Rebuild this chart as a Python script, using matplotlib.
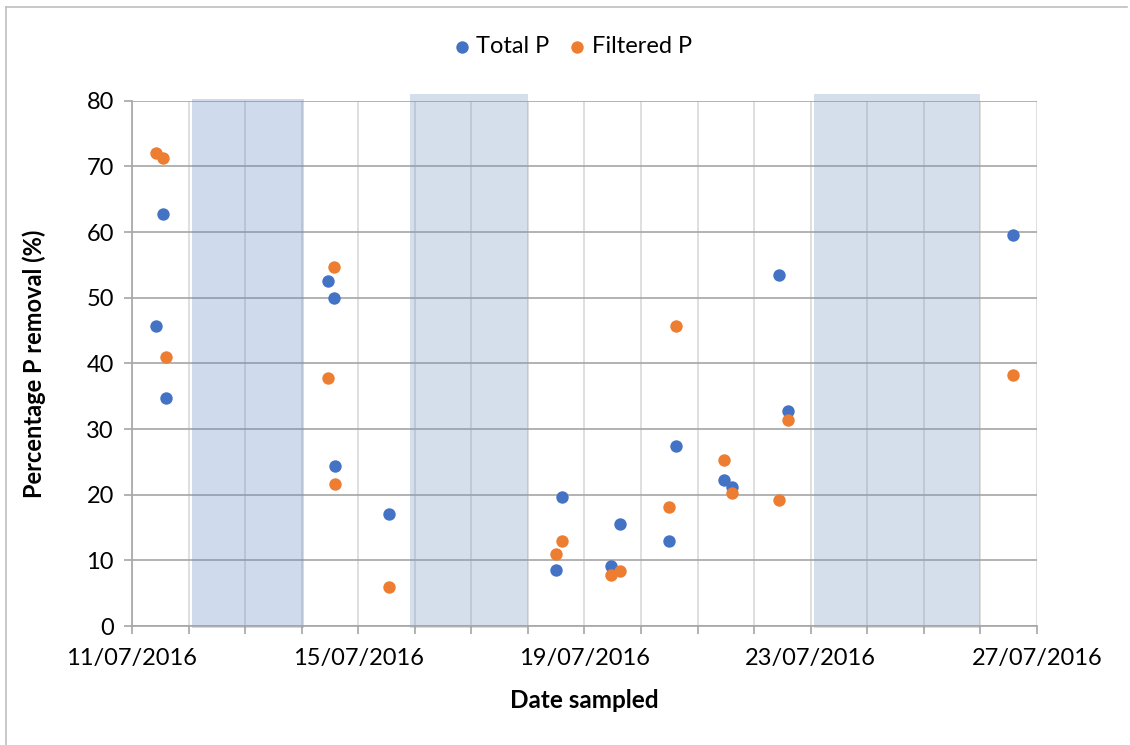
import pandas as pd
import matplotlib.pyplot as plt
import matplotlib.dates as mdates
from matplotlib.patches import Rectangle
from matplotlib.lines import Line2D

plt.rcParams['font.family'] = ['Lato', 'DejaVu Sans']

# sampling times (shared by both series)
dates_sampled = pd.to_datetime([
    "2016-07-11 10:00", "2016-07-11 13:15", "2016-07-11 14:30",
    "2016-07-14 11:00", "2016-07-14 13:45", "2016-07-14 14:20",
    "2016-07-15 13:10",
    "2016-07-18 11:45", "2016-07-18 14:40",
    "2016-07-19 11:15", "2016-07-19 15:10",
    "2016-07-20 11:45", "2016-07-20 14:50",
    "2016-07-21 11:00", "2016-07-21 14:25",
    "2016-07-22 10:35", "2016-07-22 14:25",
    "2016-07-26 13:40",
])
total_p = [45.7, 62.8, 34.8, 52.6, 50.0, 24.3, 17.1, 8.6, 19.6, 9.2, 15.6,
           13.0, 27.4, 22.2, 21.1, 53.4, 32.8, 59.6]
filtered_p = [72.1, 71.3, 40.9, 37.7, 54.7, 21.6, 5.9, 11.0, 13.0, 7.7, 8.4,
              18.2, 45.7, 25.3, 20.3, 19.2, 31.4, 38.3]

# shaded periods
band_start = pd.to_datetime(["2016-07-12 01:30", "2016-07-15 22:00", "2016-07-23 01:30"])
band_end = pd.to_datetime(["2016-07-14 01:00", "2016-07-18 00:00", "2016-07-26 00:00"])
band_top = [80.25, 81.0, 81.0]
band_colors = ["#628AC6", "#7698C0", "#7698C0"]

x_start = pd.Timestamp("2016-07-11")
x_end = pd.Timestamp("2016-07-27")

fig = plt.figure(figsize=(11.3, 7.45), dpi=100)
ax = fig.add_axes([0.1168, 0.1597, 0.8009, 0.7051])
ax.set_axisbelow(True)

for s, e, top, c in zip(band_start, band_end, band_top, band_colors):
    x0 = mdates.date2num(s)
    w = mdates.date2num(e) - x0
    ax.add_patch(Rectangle((x0, -0.3), w, top + 0.3, facecolor=c, alpha=0.3,
                           edgecolor='none', zorder=1, clip_on=False))

ax.scatter(dates_sampled, total_p, s=80, color="#4472C4", label="Total P", zorder=3, linewidths=0)
ax.scatter(dates_sampled, filtered_p, s=80, color="#ED7D31", label="Filtered P", zorder=3, linewidths=0)

ax.set_xlim(x_start, x_end)
ax.set_ylim(0, 80)
ax.set_yticks(range(0, 81, 10))
ax.set_xticks(pd.date_range(x_start, x_end, freq="4D"))
ax.xaxis.set_minor_locator(mdates.DayLocator())
ax.xaxis.set_major_formatter(mdates.DateFormatter("%d/%m/%Y"))

ax.grid(axis='y', which='major', color="#A6A6A6", linewidth=1.2)
ax.grid(axis='x', which='both', color="#D9D9D9", linewidth=1.2)

for side in ['top', 'right']:
    ax.spines[side].set_visible(False)
for side in ['left', 'bottom']:
    ax.spines[side].set_color("#A6A6A6")
    ax.spines[side].set_linewidth(1.2)

ax.tick_params(axis='both', which='both', color="#A6A6A6", width=1.2, length=6,
               labelsize=17, labelcolor="black")
ax.tick_params(axis='x', pad=10)
ax.tick_params(axis='y', pad=7)

ax.set_xlabel("Date sampled", fontsize=17.5, fontweight='bold', labelpad=14)
ax.set_ylabel("Percentage P removal (%)", fontsize=17, fontweight='bold', labelpad=29)

fig.legend(loc='center', bbox_to_anchor=(0.503, 0.937), ncol=2, frameon=False,
           fontsize=17, handletextpad=-0.1, columnspacing=0.5, handlelength=1.4)

# chart-area border (top and left edges visible)
fig.add_artist(Line2D([6 / 1130, 1127 / 1130], [1 - 7 / 745, 1 - 7 / 745],
                      transform=fig.transFigure, color="#BFBFBF", linewidth=1.2))
fig.add_artist(Line2D([6 / 1130, 6 / 1130], [0, 1 - 7 / 745],
                      transform=fig.transFigure, color="#BFBFBF", linewidth=1.2))

fig.savefig("out.png", dpi=100)
